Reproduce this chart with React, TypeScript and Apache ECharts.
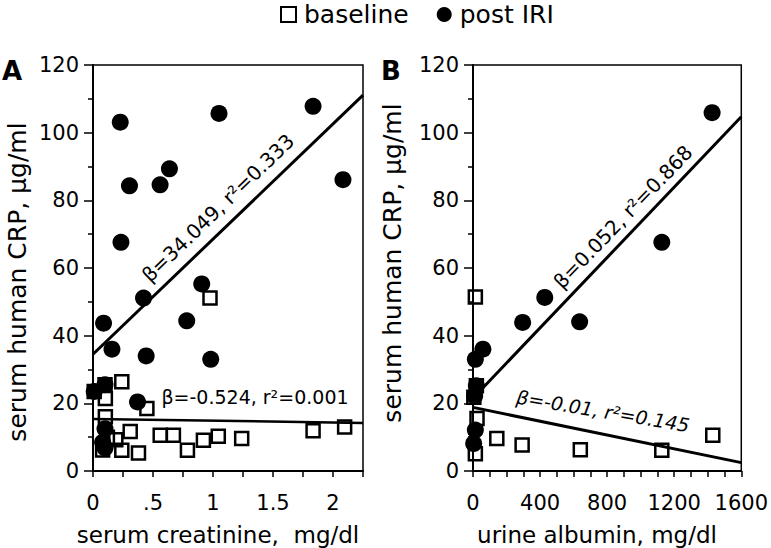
import React, { useEffect, useRef } from 'react';
import * as echarts from 'echarts';

const FONT = 'DejaVu Sans';

// Panel A: serum creatinine (mg/dl) vs serum human CRP (µg/ml)
const baselineA: [number, number][] = [
  [0.01, 23.5], [0.1, 25.5], [0.24, 26.4], [0.103, 21.4], [0.103, 16.0], [0.449, 18.5],
  [0.975, 51.1], [0.31, 11.7], [0.19, 9.2], [0.08, 6.2], [0.12, 10.0], [0.24, 6.1],
  [0.379, 5.3], [0.56, 10.6], [0.67, 10.6], [0.787, 6.1], [0.92, 9.1], [1.044, 10.3],
  [1.239, 9.6], [1.834, 11.9], [2.097, 13.0],
];
const postA: [number, number][] = [
  [0.227, 103.1], [1.05, 105.7], [1.834, 107.8], [0.304, 84.3], [0.559, 84.6], [0.637, 89.3],
  [2.083, 86.1], [0.233, 67.6], [0.906, 55.3], [0.421, 51.1], [0.088, 43.7], [0.781, 44.4],
  [0.158, 36.0], [0.443, 34.0], [0.981, 33.0], [0.371, 20.4], [0.01, 23.5], [0.1, 25.5],
  [0.1, 12.5], [0.08, 8.5], [0.1, 6.8],
];

// Panel B: urine albumin (mg/dl) vs serum human CRP (µg/ml)
const baselineB: [number, number][] = [
  [14, 51.4], [20, 25.2], [5, 21.8], [24, 15.5], [14, 5.1], [142, 9.6],
  [293, 7.7], [640, 6.3], [1126, 6.1], [1430, 10.6],
];
const postB: [number, number][] = [
  [1426, 105.9], [1126, 67.6], [428, 51.3], [296, 43.9], [636, 44.1], [59, 36.0],
  [14, 33.0], [20, 25.2], [10, 22.2], [14, 12.1], [4, 8.1],
];

// Regression lines: [A post, A baseline, B post, B baseline]
const fitSlopes = [34.049, -0.524, 0.052, -0.0102];
const fitIntercepts = [34.5, 15.4, 21.5, 18.8];
const fitRanges: [number, number][] = [[0, 2.25], [0, 2.25], [10, 1600], [0, 1600]];
const fitPanels = [0, 0, 1, 1];
const fitTexts = ['β=34.049, r²=0.333', 'β=-0.524, r²=0.001', 'β=0.052, r²=0.868', 'β=-0.01, r²=0.145'];

// Tick labels
const yTicks = ['0', '20', '40', '60', '80', '100', '120'];
const xTicksA = ['0', '.5', '1', '1.5', '2'];
const xTicksB = ['0', '400', '800', '1200', '1600'];

const xTitleA = 'serum creatinine,  mg/dl';
const xTitleB = 'urine albumin, mg/dl';
const yTitle = 'serum human CRP, μg/ml';
const legendNames = ['baseline', 'post IRI'];

function labelFormatter(labels: string[], step: number) {
  return (v: number) => {
    const i = Math.round(v / step);
    if (Math.abs(v - i * step) < 1e-6 && i >= 0 && i < labels.length) return labels[i];
    return '';
  };
}

function xAxis(gridIndex: number, max: number, interval: number, labels: string[], step: number) {
  return {
    type: 'value', gridIndex, min: 0, max, interval,
    axisLine: { show: true, onZero: false, lineStyle: { color: '#000', width: 2 } },
    axisTick: { show: true, inside: false, length: 6, lineStyle: { color: '#000', width: 1.5 } },
    axisLabel: {
      interval: 0, formatter: labelFormatter(labels, step), fontSize: 21,
      fontFamily: FONT, color: '#000', margin: 21,
    },
    splitLine: { show: false },
  };
}

function yAxis(gridIndex: number) {
  return {
    type: 'value', gridIndex, min: 0, max: 120, interval: 20,
    axisLine: { show: true, onZero: false, lineStyle: { color: '#000', width: 2 } },
    axisTick: { show: true, inside: false, length: 9, lineStyle: { color: '#000', width: 1.5 } },
    minorTick: { show: true, splitNumber: 2, length: 5, lineStyle: { color: '#000', width: 1.5 } },
    axisLabel: {
      formatter: (v: number) => yTicks[Math.round(v / 20)] ?? '',
      fontSize: 21, fontFamily: FONT, color: '#000', margin: 14,
    },
    splitLine: { show: false },
    minorSplitLine: { show: false },
  };
}

const squareStyle = { color: 'rgba(0,0,0,0)', borderColor: '#000', borderWidth: 2.5, opacity: 1 };
const circleStyle = { color: '#000', opacity: 1 };

function scatter(name: string, data: [number, number][], panel: number, isSquare: boolean) {
  return {
    type: 'scatter', name, data, xAxisIndex: panel, yAxisIndex: panel,
    symbol: isSquare ? 'rect' : 'circle', symbolSize: isSquare ? 13 : 17,
    itemStyle: isSquare ? squareStyle : circleStyle, z: isSquare ? 4 : 3, silent: true,
  };
}

const fitSeries = fitSlopes.map((s, i) => ({
  type: 'line', name: 'fit' + i, xAxisIndex: fitPanels[i], yAxisIndex: fitPanels[i],
  data: fitRanges[i].map((x) => [x, fitIntercepts[i] + s * x]),
  symbol: 'none', silent: true, z: 2,
  lineStyle: { color: '#000', width: i === 1 ? 2.5 : 3, opacity: 1 },
}));

const deg = Math.PI / 180;
const annoPos = [
  { x: 218, y: 208, rot: 44, italic: false, size: 20 },
  { x: 255, y: 397, rot: 0, italic: false, size: 19 },
  { x: 623, y: 217, rot: 46, italic: false, size: 20 },
  { x: 603, y: 411, rot: -9.5, italic: true, size: 19 },
];

function txt(text: string, x: number, y: number, size: number, extra: any = {}) {
  return {
    type: 'text', x, y, rotation: (extra.rot || 0) * deg, silent: true, z: 10,
    style: {
      text, fontSize: size, fontFamily: FONT, fill: '#000',
      fontWeight: extra.bold ? 'bold' : 'normal', fontStyle: extra.italic ? 'italic' : 'normal',
      align: 'center', verticalAlign: 'middle',
    },
  };
}

const graphics = [
  txt('A', 12, 71, 26, { bold: true }),
  txt('B', 391, 71, 26, { bold: true }),
  txt(yTitle, 17, 282, 25, { rot: 90 }),
  txt(yTitle, 392, 263, 25, { rot: 90 }),
  txt(xTitleA, 218, 535, 23),
  txt(xTitleB, 597, 535, 23),
  ...fitTexts.map((t, i) => txt(t, annoPos[i].x, annoPos[i].y, annoPos[i].size, annoPos[i])),
];

const option = {
  animation: false,
  backgroundColor: '#fff',
  textStyle: { fontFamily: FONT, color: '#000' },
  grid: [
    { left: 93, top: 65, width: 270, height: 406, show: true, borderColor: '#000', borderWidth: 1.5, backgroundColor: 'rgba(0,0,0,0)' },
    { left: 473, top: 65, width: 270, height: 406, show: true, borderColor: '#000', borderWidth: 1.5, backgroundColor: 'rgba(0,0,0,0)' },
  ],
  xAxis: [xAxis(0, 2.25, 0.25, xTicksA, 0.5), xAxis(1, 1600, 100, xTicksB, 400)],
  yAxis: [yAxis(0), yAxis(1)],
  legend: {
    left: 280, top: 2, padding: 0, itemWidth: 15, itemHeight: 15, itemGap: 28,
    textStyle: { fontSize: 25, fontFamily: FONT, color: '#000', padding: [0, 0, 0, 3] },
    selectedMode: false,
    data: [
      { name: legendNames[0], icon: 'rect', itemStyle: { color: '#fff', borderColor: '#000', borderWidth: 2, opacity: 1 } },
      { name: legendNames[1], icon: 'circle', itemStyle: { color: '#000', opacity: 1 } },
    ],
  },
  series: [
    scatter(legendNames[1], postA, 0, false),
    scatter(legendNames[0], baselineA, 0, true),
    scatter(legendNames[1], postB, 1, false),
    scatter(legendNames[0], baselineB, 1, true),
    ...fitSeries,
  ],
  graphic: graphics,
};

export default function App() {
  const ref = useRef<HTMLDivElement>(null);
  useEffect(() => {
    const chart = echarts.init(ref.current!, null, { renderer: 'svg' });
    chart.setOption(option as any);
    return () => chart.dispose();
  }, []);
  return (
    <div
      ref={ref}
      style={{ position: 'fixed', left: 0, top: 0, width: 771, height: 548, background: '#fff' }}
    />
  );
}
